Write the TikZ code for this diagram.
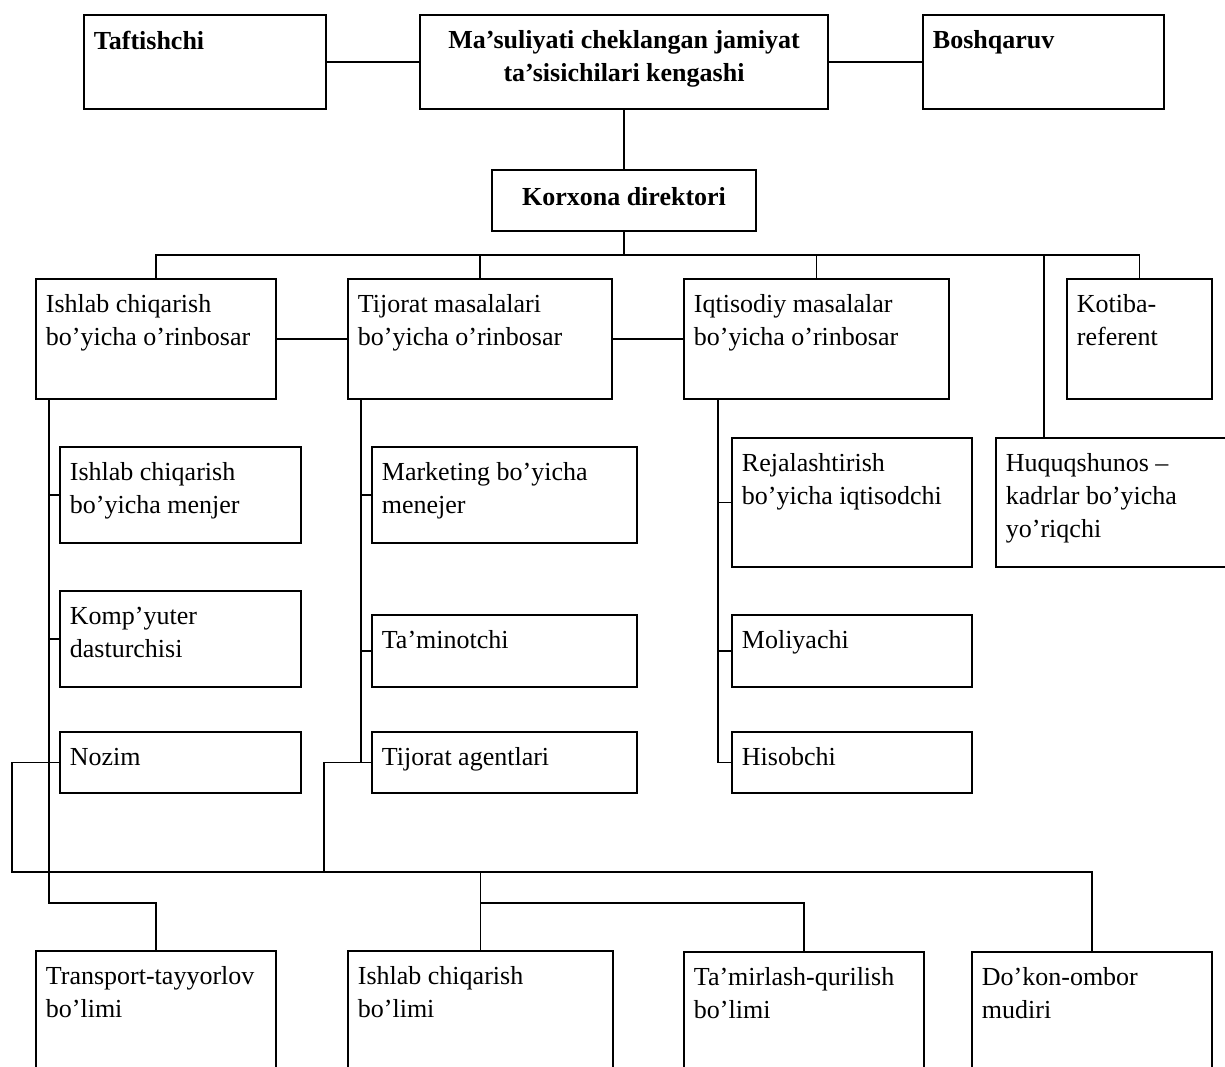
\documentclass[tikz,border=0pt]{standalone}
\usepackage{fontspec}
\setmainfont{Liberation Serif}
\usetikzlibrary{calc}
\usetikzlibrary{positioning}

\newcommand{\chartfont}{\fontsize{26}{33}\selectfont}

\begin{document}
\begin{tikzpicture}[x=1pt,y=-1pt,line width=1.8pt,font=\chartfont,
      unit style/.style={rectangle,draw=black,anchor=north west,inner
        sep=0pt,outer sep=0pt},
      text style/.style={anchor=north west,align=left,inner xsep=9pt,inner
        ysep=15pt,font=\chartfont},
      head style/.style={anchor=north,align=center,inner xsep=0pt,inner
        ysep=15pt,font=\chartfont\bfseries}
      ]
      \useasboundingbox (0,0) rectangle (1225,1067);

      % founders level
      \node[unit style,minimum width=242pt,minimum height=94pt,
        label={[text style,font=\chartfont\bfseries]north west:Taftishchi}] (taft) at (84,15) {};
      \node[unit style,minimum width=408pt,minimum height=94pt,
        label={[head style]north:{Ma’suliyati cheklangan jamiyat\\ta’sisichilari kengashi}}] (council) at (420,15) {};
      \node[unit style,minimum width=241pt,minimum height=94pt,
        label={[text style,font=\chartfont\bfseries]north west:Boshqaruv}] (bosh) at (923,15) {};

      \node[unit style,minimum width=264pt,minimum height=61pt,
        font=\chartfont\bfseries,text depth=8pt] (dir) at (492,170) {Korxona direktori};

      \draw (taft.east) -- (council.west);
      \draw (council.east) -- (bosh.west);
      \draw (council.south) -- (dir.north);

      % deputies
      \node[unit style,minimum width=240pt,minimum height=120pt,
        label={[text style]north west:{Ishlab chiqarish\\bo’yicha o’rinbosar}}] (vprod) at (36,279) {};
      \node[unit style,minimum width=264pt,minimum height=120pt,right=72pt of vprod,
        label={[text style]north west:{Tijorat masalalari\\bo’yicha o’rinbosar}}] (vcomm) {};
      \node[unit style,minimum width=265pt,minimum height=120pt,right=72pt of vcomm,
        label={[text style]north west:{Iqtisodiy masalalar\\bo’yicha o’rinbosar}}] (vecon) {};
      \node[unit style,minimum width=145pt,minimum height=120pt,
        label={[text style]north west:{Kotiba-\\referent}}] (secr) at (1067,279) {};
      \node[unit style,minimum width=250pt,minimum height=129pt,
        label={[text style]north west:{Huquqshunos –\\kadrlar bo’yicha\\yo’riqchi}}] (lawyer) at (996,438) {};

      \draw (dir.south) -- ++(0,24) coordinate (bus);
      \draw (vprod.north) |- (bus) -| (secr.north);
      \draw (vcomm.north) -- (vcomm.north |- bus);
      \draw (vecon.north) -- (vecon.north |- bus);
      \coordinate (lawtop) at ($(lawyer.north west)+(48,0)$);
      \draw (lawtop) -- (lawtop |- bus);
      \draw (vprod.east) -- (vcomm.west);
      \draw (vcomm.east) -- (vecon.west);

      % staff
      \node[unit style,minimum width=241pt,minimum height=96pt,
        label={[text style]north west:{Ishlab chiqarish\\bo’yicha menjer}}] (mprod) at (60,447) {};
      \node[unit style,minimum width=241pt,minimum height=96pt,
        label={[text style]north west:{Komp’yuter\\dasturchisi}}] (prog) at (60,591) {};
      \node[unit style,minimum width=241pt,minimum height=61pt,
        label={[text style]north west:Nozim}] (nozim) at (60,732) {};

      \node[unit style,minimum width=265pt,minimum height=96pt,
        label={[text style]north west:{Marketing bo’yicha\\menejer}}] (mkt) at (372,447) {};
      \node[unit style,minimum width=265pt,minimum height=72pt,
        label={[text style]north west:Ta’minotchi}] (supp) at (372,615) {};
      \node[unit style,minimum width=265pt,minimum height=61pt,
        label={[text style]north west:Tijorat agentlari}] (agents) at (372,732) {};

      \node[unit style,minimum width=240pt,minimum height=129pt,
        label={[text style]north west:{Rejalashtirish\\bo’yicha iqtisodchi}}] (plan) at (732,438) {};
      \node[unit style,minimum width=240pt,minimum height=72pt,
        label={[text style]north west:Moliyachi}] (fin) at (732,615) {};
      \node[unit style,minimum width=240pt,minimum height=61pt,
        label={[text style]north west:Hisobchi}] (acct) at (732,732) {};

      % departments
      \node[unit style,minimum width=240pt,minimum height=150pt,
        label={[text style]north west:{Transport-tayyorlov\\bo’limi}}] (transp) at (36,951) {};
      \node[unit style,minimum width=265pt,minimum height=150pt,
        label={[text style]north west:{Ishlab chiqarish\\bo’limi}}] (prodd) at (348,951) {};
      \node[unit style,minimum width=240pt,minimum height=150pt,
        label={[text style]north west:{Ta’mirlash-qurilish\\bo’limi}}] (repair) at (684,952) {};
      \node[unit style,minimum width=240pt,minimum height=150pt,
        label={[text style]north west:{Do’kon-ombor\\mudiri}}] (shop) at (972,952) {};

      \coordinate (botbus) at (0,872);
      \coordinate (lowbus) at (0,903);
      \coordinate (ltrunk) at ($(vprod.south west)+(13,0)$);
      \coordinate (mtrunk) at ($(vcomm.south west)+(13,0)$);
      \coordinate (rtrunk) at ($(vecon.south west)+(34,0)$);

      \draw (ltrunk) |- (transp.north |- lowbus) -- (transp.north);
      \foreach \n in {mprod,prog,nozim}
        \draw (\n.west) -- (\n.west -| ltrunk);
      \draw (mtrunk) |- (agents.west);
      \foreach \n in {mkt,supp}
        \draw (\n.west) -- (\n.west -| mtrunk);
      \draw (rtrunk) |- (acct.west);
      \foreach \n in {plan,fin}
        \draw (\n.west) -- (\n.west -| rtrunk);

      \draw (nozim.west) -- ++(-48,0) |- (shop.north |- botbus) -- (shop.north);
      \draw (agents.west) -- ++(-48,0) -- ++(0,110);
      \draw (prodd.north) -- (prodd.north |- botbus);
      \draw (repair.north) |- (prodd.north |- lowbus);

    \end{tikzpicture}
\end{document}
